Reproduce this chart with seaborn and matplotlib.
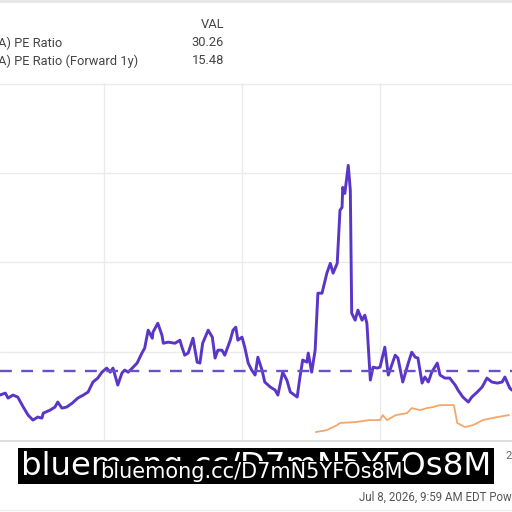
import pandas as pd
import matplotlib.pyplot as plt
import matplotlib.transforms as mtransforms
import seaborn as sns

# PE ratio (decimal year, value)
pe_dates = [2018.49, 2018.57, 2018.61, 2018.68, 2018.75, 2018.83, 2018.90, 2018.97, 2019.04, 2019.10,
            2019.12, 2019.22, 2019.29, 2019.33, 2019.39, 2019.46, 2019.54, 2019.62, 2019.70, 2019.77,
            2019.84, 2019.91, 2019.97, 2020.04, 2020.09, 2020.13, 2020.20, 2020.26, 2020.30, 2020.35,
            2020.41, 2020.48, 2020.55, 2020.59, 2020.64, 2020.70, 2020.71, 2020.78, 2020.84, 2020.86,
            2020.93, 2021.03, 2021.10, 2021.13, 2021.17, 2021.22, 2021.29, 2021.35, 2021.39, 2021.43,
            2021.51, 2021.57, 2021.61, 2021.65, 2021.71, 2021.75, 2021.83, 2021.87, 2021.91, 2021.94,
            2022.00, 2022.04, 2022.09, 2022.14, 2022.19, 2022.23, 2022.29, 2022.33, 2022.41, 2022.48,
            2022.52, 2022.59, 2022.65, 2022.70, 2022.80, 2022.84, 2022.88, 2022.94, 2022.96, 2023.01,
            2023.06, 2023.10, 2023.16, 2023.17, 2023.23, 2023.28, 2023.32, 2023.38, 2023.42, 2023.45,
            2023.46, 2023.49, 2023.54, 2023.57, 2023.59, 2023.64, 2023.68, 2023.74, 2023.78, 2023.81,
            2023.86, 2023.90, 2023.96, 2024.00, 2024.07, 2024.12, 2024.17, 2024.22, 2024.26, 2024.33,
            2024.41, 2024.46, 2024.51, 2024.55, 2024.61, 2024.65, 2024.70, 2024.75, 2024.83, 2024.87,
            2024.94, 2025.01, 2025.09, 2025.13, 2025.20, 2025.28, 2025.33, 2025.41, 2025.48, 2025.55,
            2025.62, 2025.70, 2025.77, 2025.81, 2025.88, 2025.91]
pe_values = [25.7, 26.8, 24.0, 25.7, 24.6, 19.0, 14.5, 11.7, 13.4, 12.8,
             15.6, 17.3, 19.0, 21.8, 18.4, 19.0, 21.2, 24.0, 25.7, 27.4,
             33.0, 35.2, 38.5, 40.8, 38.5, 40.8, 31.3, 38.0, 39.7, 38.5,
             40.8, 43.6, 49.2, 52.0, 62.0, 57.5, 60.9, 65.9, 59.2, 54.7,
             55.3, 54.7, 56.4, 52.5, 48.0, 49.2, 57.5, 44.1, 43.6, 54.7,
             62.0, 58.1, 46.4, 50.8, 50.8, 48.0, 56.4, 62.0, 63.7, 56.4,
             58.1, 52.5, 43.6, 39.7, 36.9, 46.9, 39.7, 33.0, 30.2, 28.5,
             25.7, 38.5, 34.1, 27.4, 24.6, 35.8, 45.3, 44.1, 49.2, 38.5,
             50.8, 82.7, 82.7, 84.4, 93.9, 99.4, 93.9, 99.4, 129.1, 130.7,
             141.9, 138.5, 154.2, 140.2, 71.5, 67.6, 73.2, 67.6, 70.4, 65.9,
             34.1, 41.3, 40.8, 41.3, 52.5, 36.9, 42.5, 48.0, 46.4, 33.0,
             43.6, 49.7, 46.9, 46.4, 32.4, 35.8, 33.0, 38.5, 43.6, 36.9,
             35.2, 35.2, 31.3, 28.5, 24.6, 21.8, 24.6, 27.4, 30.2, 35.2,
             33.0, 32.4, 33.0, 35.8, 29.6, 28.5]

# forward 1y PE ratio
fwd_dates = [2023.07, 2023.23, 2023.38, 2023.42, 2023.65, 2023.84, 2024.00, 2024.04, 2024.10, 2024.23,
             2024.39, 2024.46, 2024.58, 2024.68, 2024.77, 2024.87, 2025.01, 2025.07, 2025.12, 2025.23,
             2025.35, 2025.49, 2025.70, 2025.87]
fwd_values = [5.0, 6.1, 8.9, 10.1, 10.6, 11.7, 11.7, 14.5, 11.7, 14.5,
              15.6, 18.4, 17.3, 18.4, 19.0, 20.1, 20.1, 20.1, 10.1, 7.8,
              8.9, 11.7, 13.4, 14.5]

pe_mean = 39.4
legend_names = ['A) PE Ratio', 'A) PE Ratio (Forward 1y)']
legend_vals = ['30.26', '15.48']
year_ticks = [2020, 2022, 2024]
watermark = 'bluemong.cc/D7mN5YFOs8M'

sns.set_theme(style='white')
plt.rcParams['font.family'] = ['Roboto', 'DejaVu Sans']

purple = '#5a36c8'
orange = '#f5a66b'

fig = plt.figure(figsize=(5.12, 5.12), dpi=100)
ax = fig.add_axes([0, 71 / 512, 1, 358 / 512])

pe = pd.DataFrame({'date': pe_dates, 'value': pe_values})
fwd = pd.DataFrame({'date': fwd_dates, 'value': fwd_values})
sns.lineplot(data=pe, x='date', y='value', ax=ax, color=purple, linewidth=2.1)
sns.lineplot(data=fwd, x='date', y='value', ax=ax, color=orange, linewidth=1.3)
ax.axhline(pe_mean, color='#6a50c8', linewidth=1.7, dashes=(5, 4))

ax.set_xlim(2018.493, 2025.913)
ax.set_ylim(0, 200.3)
ax.set_xticks(year_ticks)
ax.set_xticklabels([str(y) for y in year_ticks], color='#666666', fontsize=8)
ax.set_yticks([50, 100, 150, 200])
ax.set_yticklabels([])
ax.tick_params(length=0, pad=6)
ax.grid(True, color='#ebebeb', linewidth=1)
ax.set_xlabel('')
ax.set_ylabel('')
for s in ['left', 'right', 'top']:
    ax.spines[s].set_visible(False)
ax.spines['bottom'].set_color('#d9d9d9')

# 2026 label, cut at the edge
trans = mtransforms.blended_transform_factory(ax.transData, fig.transFigure)
ax.text(2026, 1 - 456 / 512, '2026', transform=trans, ha='center', va='center',
        color='#666666', fontsize=8, clip_on=False)

# legend table
fig.text(224 / 512, 1 - 25 / 512, 'VAL', ha='right', va='center', fontsize=9.3, color='#444444')
for i, (n, v) in enumerate(zip(legend_names, legend_vals)):
    yy = 1 - (43 + 18 * i) / 512
    fig.text(-2 / 512, yy, n, ha='left', va='center', fontsize=9.3, color='#444444')
    fig.text(224 / 512, yy, v, ha='right', va='center', fontsize=9.3, color='#444444')

fig.add_artist(plt.Line2D([0, 1], [1 - 1 / 512, 1 - 1 / 512], color='#e6e6e6', linewidth=2))
fig.add_artist(plt.Line2D([0, 1], [1 - 510 / 512, 1 - 510 / 512], color='#eeeeee', linewidth=1))

fig.text(359 / 512, 1 - 497 / 512, 'Jul 8, 2026, 9:59 AM EDT Powered by YCHARTS',
         ha='left', va='center', fontsize=8.3, color='#555555')

# watermark overlay
fig.text(256 / 512, 1 - 466 / 512, watermark, ha='center', va='center', fontsize=23.3,
         color='white', family='DejaVu Sans',
         bbox=dict(facecolor='black', edgecolor='none', pad=2))
fig.text(251 / 512, 1 - 472 / 512, watermark, ha='center', va='center', fontsize=15,
         color='white', family='DejaVu Sans',
         bbox=dict(facecolor='black', edgecolor='none', pad=1))

fig.savefig('out.png', dpi=100)
